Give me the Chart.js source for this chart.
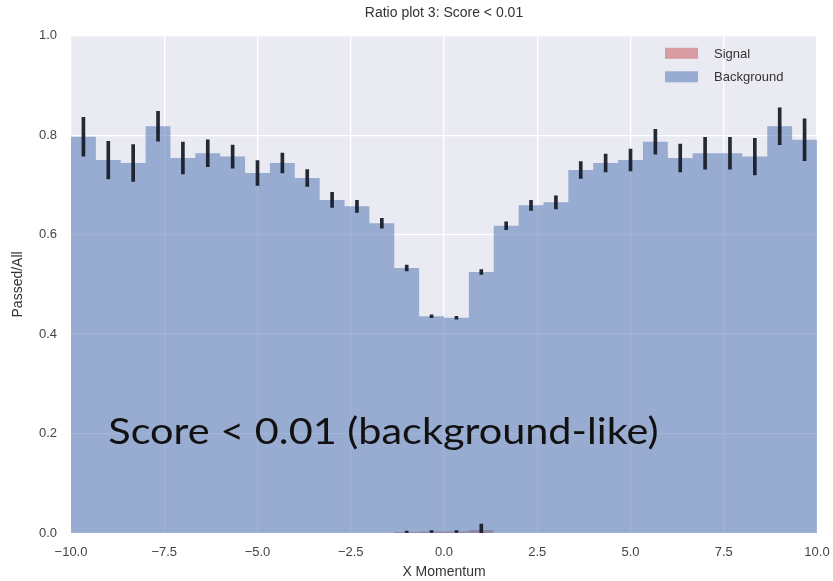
<!DOCTYPE html>
<html>
<head>
<meta charset="utf-8">
<script src="https://cdn.jsdelivr.net/npm/chart.js@4.4.1/dist/chart.umd.min.js"></script>
<style>
  html, body { margin: 0; padding: 0; background: #ffffff; }
  #wrap { width: 833px; height: 581px; position: relative; }
</style>
</head>
<body>
<div id="wrap"><canvas id="ratio"></canvas></div>
<script>
// Histogram range and binning of X Momentum
const xRange = [-10, 10];
const nBins = 30;

// Axis tick labels
const xTicks = [-10, -7.5, -5, -2.5, 0, 2.5, 5, 7.5, 10];
const yTicks = [0.0, 0.2, 0.4, 0.6, 0.8, 1.0];

// Passed/All ratio per bin, background sample
const bgRatio = [0.797, 0.750, 0.744, 0.818, 0.754, 0.764, 0.757, 0.724, 0.744, 0.714,
                 0.670, 0.657, 0.623, 0.533, 0.436, 0.433, 0.525, 0.618, 0.659, 0.665,
                 0.730, 0.744, 0.750, 0.787, 0.754, 0.764, 0.764, 0.757, 0.818, 0.791];
const bgErr   = [0.039, 0.038, 0.037, 0.030, 0.032, 0.027, 0.023, 0.025, 0.020, 0.017,
                 0.015, 0.012, 0.010, 0.006, 0.003, 0.003, 0.005, 0.008, 0.010, 0.013,
                 0.017, 0.018, 0.022, 0.025, 0.028, 0.032, 0.032, 0.037, 0.037, 0.042];

// Passed/All ratio per bin, signal sample
const sigRatio = [0, 0, 0, 0, 0, 0, 0, 0, 0, 0,
                  0, 0, 0, 0.002, 0.003, 0.003, 0.006, 0, 0, 0,
                  0, 0, 0, 0, 0, 0, 0, 0, 0, 0];
const sigErr   = [0, 0, 0, 0, 0, 0, 0, 0, 0, 0,
                  0, 0, 0, 0.002, 0.002, 0.002, 0.012, 0, 0, 0,
                  0, 0, 0, 0, 0, 0, 0, 0, 0, 0];

const seriesNames = ['Signal', 'Background'];
const titleText = 'Ratio plot 3: Score < 0.01';
const xTitle = 'X Momentum';
const yTitle = 'Passed/All';
const noteText = 'Score < 0.01 (background-like)';
const noteAt = { x: -9.0, y: 0.18, xEnd: 5.75 };

const sigColor = 'rgba(196, 78, 82, 0.5)';
const bgColor = 'rgba(76, 114, 176, 0.52)';
const errColor = 'rgba(20, 24, 36, 0.92)';
const panelColor = '#EAEAF2';
const textColor = '#333333';

const binW = (xRange[1] - xRange[0]) / nBins;
const edges = Array.from({ length: nBins + 1 }, (_, i) => xRange[0] + i * binW);
const centers = edges.slice(0, nBins).map(e => e + binW / 2);

// Histogram outline: value held from each left edge to the next edge
function stepPoints(vals) {
  const pts = vals.map((v, i) => ({ x: edges[i], y: v }));
  pts.push({ x: edges[nBins], y: vals[nBins - 1] });
  return pts;
}
function errPoints(vals, errs) {
  return vals.map((v, i) => ({ x: centers[i], y: [v - errs[i], v + errs[i]] }))
             .filter((p, i) => errs[i] > 0);
}

const fmtNum = v => v.toFixed(1).replace('-', '\u2212');

const panelBg = {
  id: 'panelBg',
  beforeDraw(chart) {
    const { ctx, chartArea: a } = chart;
    ctx.save();
    ctx.fillStyle = panelColor;
    ctx.fillRect(a.left, a.top, a.right - a.left, a.bottom - a.top);
    ctx.restore();
  }
};

const legendAndNote = {
  id: 'legendAndNote',
  afterDraw(chart) {
    const { ctx, chartArea: a, scales } = chart;
    ctx.save();
    // legend in the upper right of the panel
    const colors = [sigColor, bgColor];
    const sw = 33, sh = 11;
    const lx = a.right - 152, ly = a.top + 12;
    ctx.font = '13px "Liberation Sans", Arial, sans-serif';
    ctx.textBaseline = 'middle';
    ctx.textAlign = 'left';
    seriesNames.forEach((name, i) => {
      const y = ly + i * 23.5;
      ctx.fillStyle = colors[i];
      ctx.fillRect(lx, y, sw, sh);
      ctx.fillStyle = textColor;
      ctx.fillText(name, lx + sw + 16, y + sh / 2 + 1);
    });
    // annotation text inside the plot
    const x0 = scales.x.getPixelForValue(noteAt.x);
    const x1 = scales.x.getPixelForValue(noteAt.xEnd);
    const yb = scales.y.getPixelForValue(noteAt.y);
    ctx.font = '36px Lato, "Open Sans", sans-serif';
    ctx.textBaseline = 'alphabetic';
    const w = ctx.measureText(noteText).width;
    ctx.translate(x0, yb);
    ctx.scale((x1 - x0) / w, 1);
    ctx.fillStyle = '#111111';
    ctx.fillText(noteText, 0, 0);
    ctx.restore();
  }
};

new Chart(document.getElementById('ratio'), {
  type: 'line',
  data: {
    datasets: [
      {
        type: 'bar',
        label: 'err-bg',
        data: errPoints(bgRatio, bgErr),
        backgroundColor: errColor,
        borderWidth: 0,
        barThickness: 3,
        grouped: false,
        order: 0
      },
      {
        type: 'bar',
        label: 'err-sig',
        data: errPoints(sigRatio, sigErr),
        backgroundColor: errColor,
        borderWidth: 0,
        barThickness: 3,
        grouped: false,
        order: 0
      },
      {
        label: seriesNames[1],
        data: stepPoints(bgRatio),
        stepped: 'before',
        fill: 'origin',
        backgroundColor: bgColor,
        borderWidth: 0,
        pointRadius: 0,
        order: 1
      },
      {
        label: seriesNames[0],
        data: stepPoints(sigRatio),
        stepped: 'before',
        fill: 'origin',
        backgroundColor: sigColor,
        borderWidth: 0,
        pointRadius: 0,
        order: 2
      }
    ]
  },
  options: {
    responsive: true,
    maintainAspectRatio: false,
    animation: false,
    events: [],
    layout: { padding: { left: 0, right: 16, top: 0, bottom: 0 } },
    plugins: {
      legend: { display: false },
      tooltip: { enabled: false },
      title: {
        display: true,
        text: titleText,
        fullSize: false,
        color: textColor,
        font: { family: '"Liberation Sans", Arial, sans-serif', size: 14, weight: 'normal' },
        padding: { top: 5, bottom: 14 }
      }
    },
    scales: {
      x: {
        type: 'linear',
        offset: false,
        min: xRange[0],
        max: xRange[1],
        afterBuildTicks: s => { s.ticks = xTicks.map(v => ({ value: v })); },
        afterFit: s => { s.height = 48; s.paddingLeft = 0; s.paddingRight = 0; },
        grid: { color: '#ffffff', lineWidth: 1.3, drawTicks: false, offset: false },
        border: { display: false },
        ticks: {
          color: '#444444',
          padding: 12,
          maxRotation: 0,
          font: { family: '"Liberation Sans", Arial, sans-serif', size: 13 },
          callback: v => fmtNum(v)
        },
        title: {
          display: true,
          text: xTitle,
          color: textColor,
          font: { family: '"Liberation Sans", Arial, sans-serif', size: 14 },
          padding: { top: 2, bottom: 0 }
        }
      },
      y: {
        min: 0,
        max: 1,
        afterBuildTicks: s => { s.ticks = yTicks.map(v => ({ value: v })); },
        afterFit: s => { s.width = 71; },
        grid: { color: '#ffffff', lineWidth: 1.3, drawTicks: false },
        border: { display: false },
        ticks: {
          color: '#444444',
          padding: 14,
          font: { family: '"Liberation Sans", Arial, sans-serif', size: 13 },
          callback: v => fmtNum(v)
        },
        title: {
          display: true,
          text: yTitle,
          color: textColor,
          font: { family: '"Liberation Sans", Arial, sans-serif', size: 14 },
          padding: { top: 10, bottom: 4 }
        }
      }
    }
  },
  plugins: [panelBg, legendAndNote]
});
</script>
</body>
</html>
